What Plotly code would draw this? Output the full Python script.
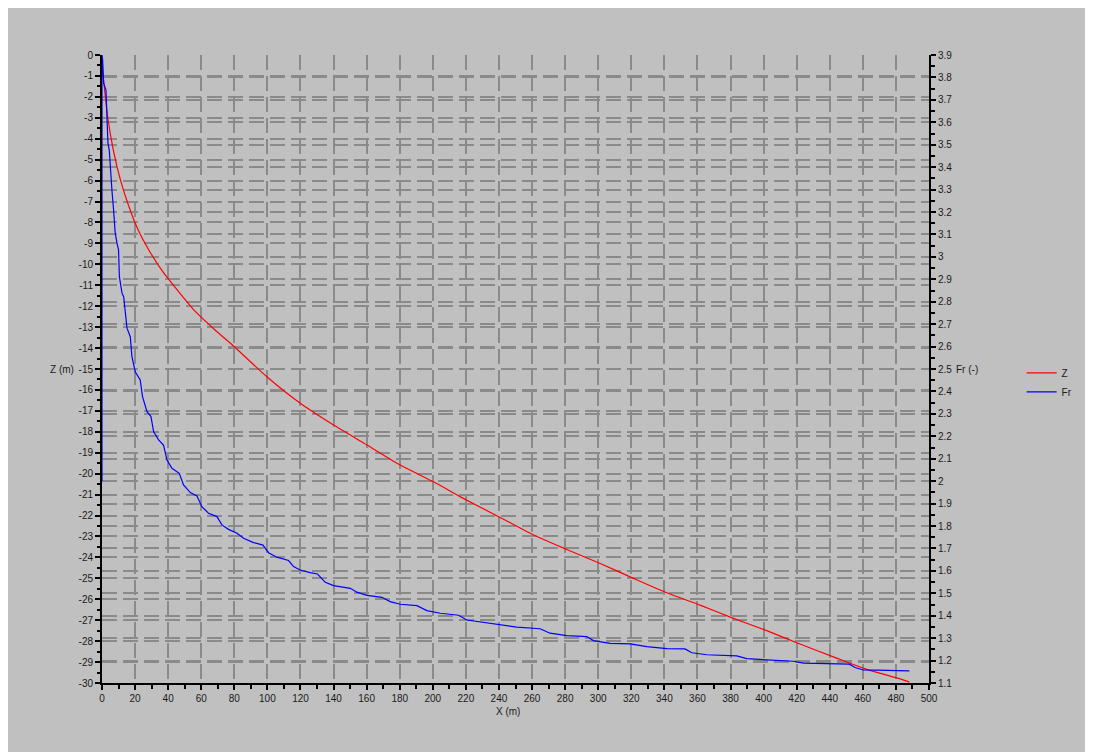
import plotly.graph_objects as go

# ---- data ----
x_z = [0, 1.6, 3.4, 7.0, 11.1, 16.1, 22.1, 28.2, 36.3, 46.3, 56.4, 68.5, 79.5, 99.7, 119.9, 140.0,
       160.2, 180.3, 200.4, 218.5, 240.7, 260.9, 281.0, 301.2, 321.3, 341.5, 361.6, 381.8,
       401.9, 422.0, 442.2, 462.3, 483.5, 488.1]
z_vals = [-0.48, -1.67, -2.95, -4.6, -5.95, -7.2, -8.4, -9.3, -10.3, -11.3, -12.25, -13.15, -13.9,
          -15.37, -16.64, -17.68, -18.63, -19.59, -20.39, -21.18, -22.09, -22.93, -23.62, -24.29,
          -25.0, -25.69, -26.28, -26.91, -27.5, -28.14, -28.75, -29.35, -29.83, -29.96]

x_fr = [0, 0, 0.4, 1.0, 2.4, 3.0, 3.6, 4.4, 5.0, 6.0, 7.0, 8.0, 9.1, 10.0, 10.5, 12.1, 13.1, 14.1,
        15.1, 17.1, 18.1, 20.1, 23.1, 24.5, 27.2, 29.6, 31.2, 34.2, 37.2, 39.3, 42.3, 46.7, 49.3,
        53.4, 57.4, 60.4, 64.4, 69.5, 72.5, 76.5, 81.6, 85.6, 91.6, 97.3, 100.7, 105.7, 112.8,
        115.8, 119.8, 125.9, 130.3, 135.0, 140.0, 150.1, 154.1, 160.2, 169.2, 174.2, 180.3,
        190.4, 196.4, 204.5, 215.6, 220.6, 230.7, 240.7, 250.8, 264.9, 270.9, 281.0, 293.1,
        297.1, 307.2, 319.3, 329.4, 341.5, 352.5, 356.6, 365.6, 383.8, 389.8, 401.9, 418.0,
        424.1, 442.2, 451.8, 455.3, 460.3, 468.4, 480.5, 488.1]
fr_vals = [2.0, 3.9, 3.878, 3.774, 3.744, 3.625, 3.506, 3.476, 3.387, 3.298, 3.209, 3.105, 3.06,
           3.031, 2.912, 2.838, 2.822, 2.733, 2.682, 2.644, 2.555, 2.488, 2.451, 2.377, 2.310,
           2.288, 2.221, 2.184, 2.161, 2.094, 2.057, 2.035, 1.983, 1.949, 1.934, 1.886, 1.857,
           1.842, 1.805, 1.785, 1.768, 1.745, 1.726, 1.715, 1.681, 1.661, 1.646, 1.619, 1.604,
           1.592, 1.586, 1.549, 1.534, 1.522, 1.505, 1.491, 1.482, 1.463, 1.451, 1.445, 1.423,
           1.411, 1.402, 1.381, 1.371, 1.362, 1.349, 1.342, 1.322, 1.311, 1.307, 1.289, 1.277,
           1.274, 1.262, 1.253, 1.252, 1.235, 1.226, 1.221, 1.209, 1.203, 1.197, 1.189, 1.185,
           1.184, 1.169, 1.158, 1.157, 1.154, 1.154]

z_ticks = list(range(0, -31, -1))
z_ticklabels = [str(v) for v in z_ticks]

GRID = "#8a8a8a"
BG = "#c0c0c0"
FONT = dict(family="Liberation Sans, Arial, sans-serif", size=10, color="#1a1a1a")

fig = go.Figure()
fig.add_trace(go.Scatter(x=x_z, y=z_vals, name="Z", mode="lines", line_shape="spline",
                         line=dict(color="#ff0000", width=1.2, smoothing=0.6), yaxis="y"))
fig.add_trace(go.Scatter(x=x_fr, y=fr_vals, name="Fr", mode="lines",
                         line=dict(color="#0000ff", width=1.2), yaxis="y2"))

axis_common = dict(showline=True, linecolor="black", linewidth=2, ticks="outside",
                   tickcolor="black", tickwidth=2, ticklen=5, showgrid=True,
                   gridcolor=GRID, gridwidth=1.5, griddash="15px,6px", zeroline=False,
                   tickfont=FONT, layer="below traces")

fig.update_layout(
    width=1090, height=744,
    margin=dict(l=94, r=169, t=47, b=69),
    paper_bgcolor=BG, plot_bgcolor=BG,
    font=FONT,
    showlegend=True,
    legend=dict(x=1.112, y=0.517, xanchor="left", yanchor="top", bgcolor="rgba(0,0,0,0)",
                font=FONT, itemwidth=30, tracegroupgap=0),
    xaxis=dict(range=[0, 500], dtick=20, tick0=0,
               minor=dict(dtick=10, ticklen=4, tickwidth=2, tickcolor="black", ticks="outside"),
               **axis_common),
    yaxis=dict(range=[-30, 0], tickmode="array", tickvals=z_ticks, ticktext=z_ticklabels,
               minor=dict(dtick=0.5, tick0=0, ticklen=3, tickwidth=2, tickcolor="black",
                          ticks="outside"),
               **axis_common),
    yaxis2=dict(range=[1.1, 3.9], dtick=0.1, tick0=1.1, overlaying="y", side="right",
                minor=dict(dtick=0.05, tick0=1.1, ticklen=4, tickwidth=2, tickcolor="black",
                           ticks="outside"),
                **axis_common),
    annotations=[
        dict(text="Z (m)", xref="paper", yref="paper", x=-0.048, y=0.5, showarrow=False,
             font=FONT, xanchor="center", yanchor="middle"),
        dict(text="Fr (-)", xref="paper", yref="paper", x=1.046, y=0.5, showarrow=False,
             font=FONT, xanchor="center", yanchor="middle"),
        dict(text="X (m)", xref="paper", yref="paper", x=0.491, y=-0.0446, showarrow=False,
             font=FONT, xanchor="center", yanchor="middle"),
    ],
)

fig.write_html("out.html")
